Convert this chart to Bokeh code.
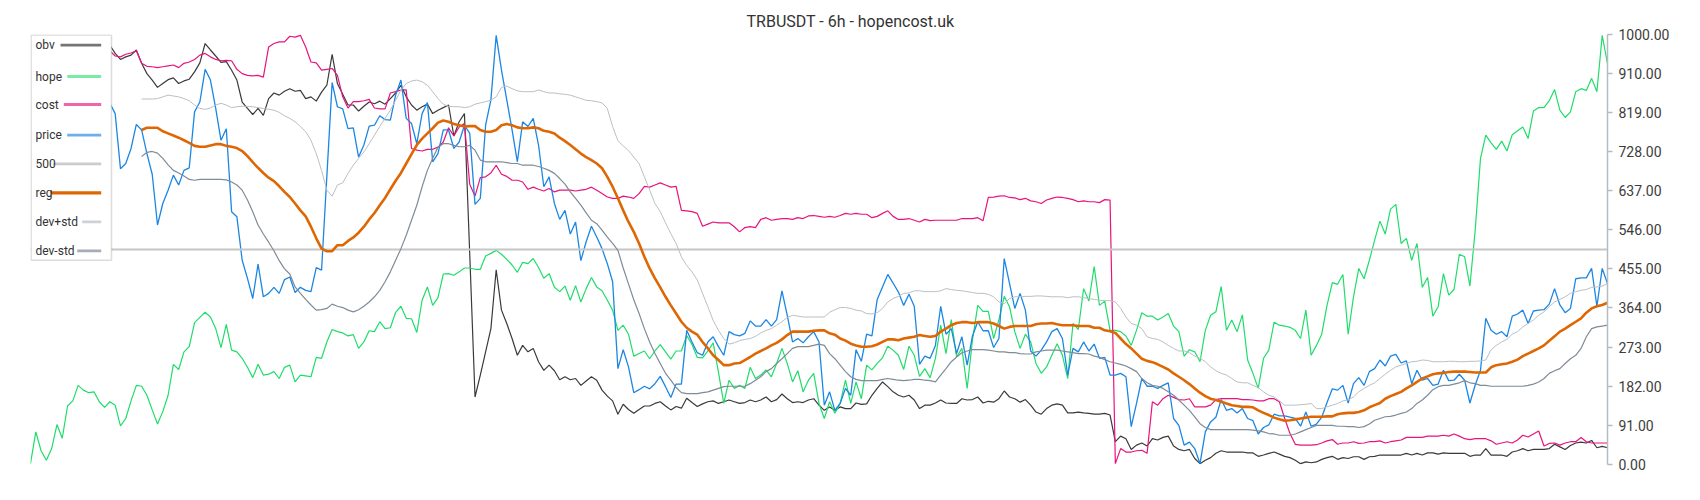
import numpy as np
from bokeh.plotting import figure
from bokeh.models import Range1d, FixedTicker, NumeralTickFormatter, BoxAnnotation, Label, ColumnDataSource
from bokeh.embed import file_html
from bokeh.resources import INLINE

nan = float("nan")

title_text = "TRBUSDT - 6h - hopencost.uk"
y_ticks = [0, 91, 182, 273, 364, 455, 546, 637, 728, 819, 910, 1000]
level_500 = 500

hope = [2, 76, 32, 10, 37, 93, 61, 136, 148, 184, 173, 167, 169, 146, 133, 146, 138, 90, 107, 148, 184, 182, 161, 127, 94, 123, 161, 233, 221, 262, 274, 330, 342, 354, 343, 316, 272, 326, 266, 262, 247, 226, 202, 233, 208, 210, 216, 200, 226, 231,
        192, 208, 206, 204, 249, 247, 285, 314, 309, 306, 299, 302, 270, 285, 311, 309, 332, 316, 318, 354, 368, 340, 339, 307, 382, 413, 370, 388, 443, 444, 440, 448, 457, 457, 454, 454, 485, 491, 498, 489, 477, 464, 447, 470, 467, 479, 458, 433, 444,
        412, 402, 415, 382, 416, 378, 409, 435, 413, 404, 382, 359, 312, 324, 303, 252, 258, 264, 246, 264, 279, 262, 245, 264, 264, 300, 279, 249, 248, 264, 283, 215, 142, 196, 177, 184, 177, 226, 200, 208, 220, 204, 235, 270, 235, 192, 218, 169, 196,
        212, 142, 107, 146, 119, 142, 196, 142, 192, 153, 231, 220, 235, 248, 275, 266, 254, 221, 275, 254, 205, 223, 202, 247, 324, 258, 337, 250, 270, 177, 289, 370, 356, 356, 293, 337, 391, 367, 309, 270, 303, 285, 235, 212, 227, 254, 281, 254, 200,
        328, 314, 409, 380, 460, 370, 380, 312, 312, 309, 299, 277, 312, 353, 345, 345, 336, 343, 351, 322, 309, 252, 267, 262, 239, 312, 347, 355, 414, 312, 336, 309, 348, 243, 212, 177, 247, 266, 331, 324, 322, 319, 312, 293, 359, 254, 277, 303, 370, 423,
        419, 442, 303, 390, 456, 432, 475, 522, 566, 536, 594, 605, 514, 526, 475, 514, 412, 435, 345, 367, 444, 394, 407, 489, 483, 415, 545, 712, 766, 748, 733, 752, 729, 767, 776, 785, 758, 822, 830, 830, 846, 872, 824, 807, 820, 867, 874, 870, 898, 867, 998, 932]

price = [nan] * 15 + [840, 816, 688, 700, 735, 791, 778, 723, 675, 557, 607, 638, 673, 650, 684, 690, 820, 843, 919, 894, 828, 754, 781, 588, 576, 475, 433, 386, 466, 390, 398, 412, 398, 430, 436,
         400, 412, 405, 402, 458, 452, 670, 888, 832, 827, 781, 783, 715, 743, 787, 789, 811, 802, 801, 859, 894, 805, 793, 746, 816, 842, 704, 723, 778, 778, 735, 750, 789, 770, 605, 619, 789, 848, 998, 917, 848, 778, 704, 797, 786, 805, 743, 646, 669,
         607, 570, 591, 536, 564, 474, 518, 554, 529, 502, 467, 425, 223, 267, 227, 167, 174, 182, 176, 188, 205, 181, 156, 187, 187, 312, 285, 260, 254, 285, 297, 274, 254, 309, 302, 299, 305, 334, 322, 322, 337, 322, 337, 404, 347, 285, 293, 283, 297,
         309, 285, 138, 169, 126, 142, 177, 161, 267, 240, 303, 299, 384, 413, 442, 422, 401, 370, 396, 368, 233, 252, 247, 277, 368, 303, 316, 258, 297, 231, 299, 332, 311, 311, 272, 293, 479, 421, 363, 398, 359, 264, 252, 266, 285, 309, 316, 293, 208,
         270, 262, 285, 264, 280, 247, 249, 208, 208, 212, 204, 88, 142, 200, 182, 182, 177, 184, 190, 107, 91, 45, 52, 37, 2, 76, 99, 110, 151, 126, 130, 120, 130, 107, 102, 71, 86, 92, 117, 113, 113, 110, 107, 89, 122, 89, 94, 110, 144, 176,
         173, 184, 143, 188, 202, 184, 216, 223, 243, 229, 252, 256, 236, 241, 188, 219, 196, 200, 184, 187, 219, 195, 196, 210, 196, 143, 185, 219, 340, 312, 303, 309, 297, 345, 350, 359, 328, 357, 359, 360, 373, 409, 371, 353, 363, 432, 434, 434, 456, 368, 456, 421]

obv = [nan] * 15 + [975, 956, 942, 948, 952, 964, 933, 909, 894, 877, 886, 895, 899, 886, 892, 896, 913, 934, 979, 964, 950, 935, 937, 917, 894, 843, 828, 814, 828, 812, 851, 864, 859, 868, 874,
       868, 870, 851, 855, 845, 866, 882, 954, 886, 861, 836, 836, 822, 833, 843, 839, 845, 838, 851, 864, 882, 855, 836, 824, 832, 838, 816, 824, 830, 836, 764, 797, 816, 490, 157, 208, 262, 316, 453, 359, 328, 293, 254, 277, 262, 270, 239, 219, 231,
       218, 197, 204, 197, 200, 184, 194, 204, 196, 173, 159, 148, 117, 140, 128, 119, 128, 136, 136, 142, 146, 136, 127, 135, 131, 154, 144, 135, 141, 146, 148, 142, 146, 150, 146, 142, 144, 150, 146, 150, 157, 146, 151, 164, 153, 144, 146, 144, 150,
       153, 138, 126, 134, 126, 134, 130, 130, 143, 140, 141, 161, 177, 192, 181, 169, 161, 157, 161, 150, 130, 138, 138, 143, 150, 143, 142, 142, 153, 150, 151, 157, 143, 147, 145, 153, 171, 157, 153, 145, 151, 138, 122, 117, 130, 138, 141, 138, 120,
       120, 122, 120, 119, 117, 117, 119, 115, 53, 66, 60, 35, 45, 50, 43, 60, 57, 63, 66, 43, 35, 32, 35, 14, 2, 10, 16, 26, 32, 29, 29, 29, 29, 27, 27, 19, 22, 26, 29, 24, 19, 16, 10, 2, 6, 4, 6, 12, 16, 19,
       12, 16, 14, 18, 18, 12, 18, 19, 22, 22, 22, 22, 22, 26, 22, 26, 22, 27, 27, 24, 27, 26, 26, 26, 26, 19, 22, 22, 37, 22, 22, 22, 19, 29, 32, 37, 32, 35, 35, 35, 37, 47, 41, 35, 44, 50, 52, 50, 56, 39, 42, 39]

cost = [nan] * 15 + [962, 950, 948, 954, 957, 962, 933, 926, 925, 923, 925, 927, 929, 923, 933, 936, 942, 952, 956, 948, 942, 939, 940, 939, 919, 909, 905, 904, 905, 901, 971, 979, 983, 983, 996,
        994, 998, 971, 936, 934, 917, 919, 921, 905, 855, 829, 844, 844, 846, 849, 829, 827, 827, 864, 867, 871, 871, 735, 731, 729, 733, 733, 738, 750, 783, 764, 785, 793, 652, 624, 667, 669, 678, 696, 675, 670, 661, 661, 657, 640, 645, 640, 636, 642,
        634, 638, 638, 638, 636, 638, 640, 645, 638, 630, 622, 619, 619, 624, 622, 619, 630, 647, 645, 650, 655, 650, 645, 647, 591, 590, 588, 584, 554, 559, 564, 562, 562, 562, 553, 541, 551, 553, 551, 570, 574, 568, 570, 572, 572, 570, 574, 572, 578,
        579, 577, 575, 577, 575, 579, 584, 582, 584, 582, 582, 574, 577, 584, 590, 577, 570, 570, 572, 568, 564, 570, 567, 568, 568, 568, 568, 568, 572, 572, 572, 574, 567, 621, 622, 624, 625, 621, 620, 616, 619, 613, 611, 607, 615, 619, 622, 621, 619,
        616, 611, 613, 611, 611, 609, 616, 615, 2, 37, 29, 29, 32, 33, 26, 146, 138, 153, 161, 156, 151, 150, 153, 134, 134, 134, 138, 151, 153, 153, 153, 153, 151, 151, 150, 148, 148, 153, 153, 146, 107, 72, 47, 45, 45, 45, 46, 50, 55, 58,
        47, 50, 50, 53, 49, 50, 53, 53, 55, 50, 53, 55, 57, 63, 63, 63, 63, 66, 66, 66, 68, 66, 71, 66, 60, 58, 60, 60, 60, 55, 47, 50, 53, 50, 57, 68, 64, 71, 78, 43, 49, 50, 45, 50, 53, 53, 63, 53, 50, 50, 50, 50]

reg = [nan] * 21 + [778, 783, 783, 783, 775, 770, 765, 760, 754, 748, 741, 739, 739, 742, 745, 745, 741, 739, 736, 729, 717, 703, 690, 678, 667, 659, 647, 634, 622,
       607, 591, 577, 553, 526, 502, 496, 496, 510, 510, 520, 528, 539, 553, 570, 585, 603, 620, 640, 660, 678, 700, 722, 743, 758, 770, 782, 795, 800, 797, 792, 789, 786, 787, 787, 778, 774, 774, 778, 789, 792, 789, 784, 782, 782, 784, 782, 776, 774,
       770, 760, 752, 743, 733, 723, 715, 708, 700, 689, 669, 646, 619, 591, 564, 541, 514, 483, 456, 433, 412, 390, 370, 351, 332, 318, 309, 302, 285, 270, 254, 243, 231, 231, 235, 236, 243, 250, 258, 264, 270, 277, 283, 291, 301, 309, 309, 309, 309,
       311, 312, 312, 305, 302, 293, 288, 281, 277, 274, 274, 275, 279, 285, 291, 291, 289, 293, 295, 297, 301, 299, 297, 299, 309, 316, 324, 329, 331, 331, 329, 331, 331, 331, 328, 322, 316, 320, 322, 322, 322, 322, 326, 328, 328, 329, 326, 324, 324,
       324, 322, 322, 322, 318, 318, 312, 310, 306, 293, 280, 270, 258, 246, 241, 238, 233, 227, 221, 212, 204, 196, 187, 177, 167, 159, 153, 150, 146, 142, 138, 136, 134, 134, 133, 126, 120, 115, 109, 105, 102, 103, 105, 107, 109, 111, 111, 111, 112, 112,
       117, 119, 120, 120, 122, 126, 133, 138, 143, 153, 159, 164, 169, 177, 184, 192, 200, 205, 210, 212, 213, 215, 216, 216, 216, 215, 214, 214, 214, 226, 231, 233, 235, 239, 244, 252, 258, 264, 270, 277, 288, 298, 309, 316, 324, 332, 340, 353, 363, 368, 371, 376]

dev_plus_std = [nan] * 21 + [850, 850, 850, 851, 855, 859, 857, 855, 851, 846, 836, 828, 826, 829, 836, 840, 836, 830, 832, 833, 833, 832, 830, 828, 826, 824, 819, 811, 805,
                797, 786, 774, 754, 723, 684, 638, 624, 650, 655, 677, 696, 712, 727, 746, 766, 786, 805, 824, 847, 871, 886, 892, 894, 890, 882, 867, 851, 838, 833, 832, 832, 830, 832, 838, 841, 844, 847, 855, 877, 880, 874, 869, 867, 867, 867, 871, 867, 864,
                864, 862, 861, 859, 855, 851, 847, 846, 844, 841, 828, 786, 753, 741, 730, 715, 700, 669, 638, 607, 588, 562, 537, 514, 483, 463, 448, 429, 398, 367, 335, 312, 293, 280, 283, 288, 291, 293, 298, 306, 312, 316, 324, 332, 342, 347, 345, 343, 343,
                343, 343, 343, 354, 360, 365, 365, 363, 359, 357, 351, 350, 353, 363, 378, 386, 391, 398, 399, 404, 404, 402, 402, 402, 404, 409, 407, 405, 404, 402, 400, 398, 398, 396, 390, 378, 374, 386, 390, 390, 391, 391, 392, 392, 391, 390, 390, 390, 388,
                390, 390, 388, 386, 384, 382, 381, 381, 378, 363, 343, 328, 324, 316, 297, 293, 291, 285, 277, 270, 264, 264, 260, 252, 247, 239, 227, 218, 212, 208, 200, 192, 190, 190, 184, 179, 169, 161, 157, 148, 138, 138, 138, 139, 140, 142, 130, 130, 134, 138,
                142, 148, 150, 157, 169, 177, 184, 190, 200, 210, 219, 227, 231, 235, 239, 240, 243, 242, 239, 239, 239, 240, 240, 239, 239, 240, 240, 241, 243, 267, 277, 285, 291, 303, 309, 320, 328, 336, 347, 355, 367, 378, 384, 390, 398, 402, 405, 407, 412, 413, 415, 421]

dev_minus_std = [nan] * 21 + [716, 726, 728, 724, 712, 697, 684, 678, 671, 663, 661, 663, 663, 663, 663, 663, 662, 657, 650, 638, 615, 588, 557, 536, 517, 497, 474, 455, 443,
                 413, 398, 384, 371, 359, 360, 363, 373, 368, 365, 359, 355, 360, 368, 378, 390, 405, 425, 448, 475, 502, 533, 568, 603, 646, 684, 712, 738, 746, 746, 742, 739, 739, 742, 731, 708, 704, 704, 704, 704, 702, 700, 700, 696, 696, 696, 693, 689, 684,
                 677, 665, 652, 634, 619, 603, 585, 568, 560, 545, 529, 514, 498, 457, 420, 383, 351, 316, 285, 258, 235, 212, 196, 179, 167, 165, 165, 165, 167, 169, 173, 177, 181, 182, 182, 182, 182, 188, 196, 204, 216, 223, 235, 246, 258, 270, 274, 274, 274,
                 277, 280, 277, 258, 246, 231, 216, 204, 198, 195, 195, 195, 195, 198, 200, 198, 196, 195, 196, 198, 198, 196, 195, 192, 208, 223, 239, 250, 260, 264, 267, 267, 267, 266, 264, 262, 262, 260, 260, 258, 257, 257, 262, 264, 266, 266, 266, 264, 262,
                 260, 258, 258, 257, 252, 249, 244, 239, 236, 233, 229, 223, 216, 200, 190, 184, 182, 177, 169, 161, 150, 138, 126, 111, 95, 86, 81, 81, 81, 81, 81, 81, 81, 81, 80, 78, 76, 72, 71, 68, 68, 68, 71, 76, 81, 86, 91, 91, 91, 91,
                 89, 89, 88, 88, 86, 88, 94, 103, 107, 111, 112, 115, 119, 122, 130, 142, 150, 161, 174, 181, 184, 184, 187, 190, 195, 190, 188, 184, 184, 182, 182, 182, 182, 182, 182, 182, 184, 187, 192, 200, 212, 218, 223, 235, 246, 254, 270, 297, 316, 320, 322, 324]

N = len(hope)
idx = np.arange(N)
src = ColumnDataSource(dict(
    idx=idx,
    obv=np.array(obv, dtype=float),
    hope=np.array(hope, dtype=float),
    cost=np.array(cost, dtype=float),
    price=np.array(price, dtype=float),
    lvl=np.full(N, float(level_500)),
    reg=np.array(reg, dtype=float),
    dps=np.array(dev_plus_std, dtype=float),
    dms=np.array(dev_minus_std, dtype=float),
))

FRAME_W, FRAME_H = 1577, 430

p = figure(frame_width=FRAME_W, frame_height=FRAME_H,
           x_range=Range1d(0, N - 1), y_range=Range1d(0, 1000),
           output_backend="svg", toolbar_location=None,
           x_axis_location=None, y_axis_location="right",
           min_border_left=30, min_border_top=34, min_border_bottom=14, min_border_right=8,
           background_fill_color="white", border_fill_color="white")
p.grid.visible = False
p.outline_line_color = None

p.title.text = title_text
p.title.align = "left"
p.title.offset = 716
p.title.text_font = "Roboto"
p.title.text_font_size = "16px"
p.title.text_font_style = "normal"
p.title.text_color = "#333333"
p.title.standoff = 8

ax = p.yaxis[0]
ax.ticker = FixedTicker(ticks=y_ticks)
ax.formatter = NumeralTickFormatter(format="0.00")
ax.major_label_text_font = "Roboto"
ax.major_label_text_font_size = "14px"
ax.major_label_text_color = "#3c3c3c"
ax.axis_line_color = "#b3bcc4"
ax.axis_line_width = 1.5
ax.major_tick_line_color = "#b3bcc4"
ax.major_tick_line_width = 1.5
ax.major_tick_out = 5
ax.major_tick_in = 0
ax.minor_tick_line_color = None
ax.major_label_standoff = 6

series = [
    ("obv", "obv", "#3a3a3a", 1.2),
    ("hope", "hope", "#1fdd6a", 1.2),
    ("cost", "cost", "#e8137d", 1.2),
    ("price", "price", "#1c86e3", 1.3),
    ("500", "lvl", "#c6c6c6", 2.0),
    ("reg", "reg", "#df6703", 2.6),
    ("dev+std", "dps", "#b9bfc5", 1.0),
    ("dev-std", "dms", "#7f8b97", 1.2),
]
for name, col, color, w in series:
    p.line("idx", col, source=src, line_color=color, line_width=w)

# custom legend (label then swatch); layout given in pixels relative to the frame's top-left corner
def fx(px):
    return px * (N - 1) / FRAME_W

def fy(py):
    return 1000 - py * 1000 / FRAME_H

p.add_layout(BoxAnnotation(left=fx(0.6), right=fx(81), top=fy(0.6), bottom=fy(225.7),
                           fill_color="white", fill_alpha=1.0,
                           line_color="#8a8a8a", line_width=1.5))
legend_rows = [10.7, 42, 70, 100.7, 129.4, 158.4, 187.4, 216.4]
swatch_left = [30, 36.7, 33.3, 36.7, 22.7, 20, 51.7, 46.7]
swatch_alpha = [0.7, 0.6, 0.65, 0.65, 0.9, 1.0, 0.7, 0.7]
for (name, col, color, w), yc, sl, a in zip(series, legend_rows, swatch_left, swatch_alpha):
    th = 1.4 if name != "reg" else 1.6
    p.add_layout(BoxAnnotation(left=fx(sl), right=fx(70.7), top=fy(yc - th), bottom=fy(yc + th),
                               fill_color=color, fill_alpha=a, line_color=None))
    p.add_layout(Label(x=fx(5), y=fy(yc), text=name, text_baseline="middle",
                       text_font="Roboto", text_font_size="12px", text_color="#333333"))

open("out.html", "w").write(file_html(p, INLINE))
